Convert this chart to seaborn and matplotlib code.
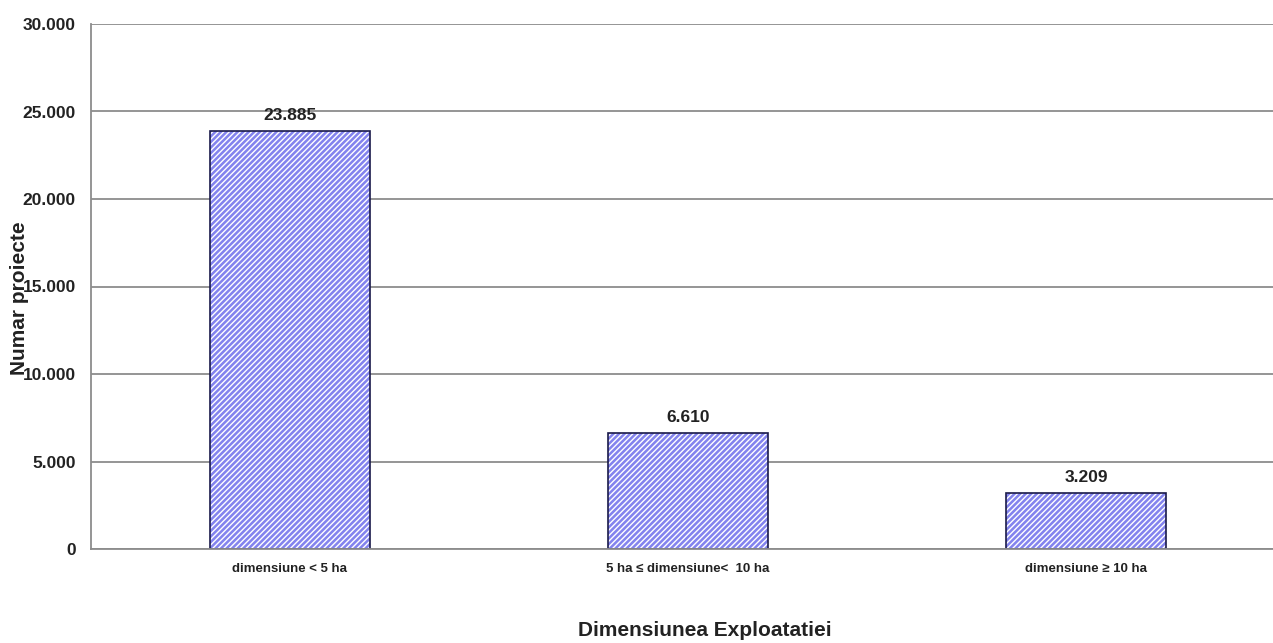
import seaborn as sns
import matplotlib.pyplot as plt
import matplotlib.ticker as mticker
import pandas as pd

categorii = ['dimensiune < 5 ha', '5 ha \u2264 dimensiune<  10 ha', 'dimensiune \u2265 10 ha']
proiecte = [23885, 6610, 3209]
etichete = ['23.885', '6.610', '3.209']

df = pd.DataFrame({'categorie': categorii, 'proiecte': proiecte})

sns.set_style('white')
plt.rcParams['font.family'] = ['Liberation Sans', 'DejaVu Sans']
plt.rcParams['hatch.linewidth'] = 1.0

fig = plt.figure(figsize=(12.73, 6.43), dpi=100)
ax = fig.add_axes([91 / 1273, 1 - 549 / 643, 1194 / 1273, 525 / 643])

# bars with white diagonal stripes, then the dark outline on top
sns.barplot(data=df, x='categorie', y='proiecte', ax=ax, color='#8383ee',
            width=0.40, edgecolor='white', linewidth=0, hatch='//////', saturation=1)
sns.barplot(data=df, x='categorie', y='proiecte', ax=ax, facecolor='none',
            width=0.40, edgecolor='#1a1a4a', linewidth=1.2, saturation=1)

for i, (v, t) in enumerate(zip(proiecte, etichete)):
    ax.text(i, v + 450, t, ha='center', va='bottom', fontsize=12.5,
            fontweight='bold', color='#222222')

ax.set_ylim(0, 30000)
ax.set_xlim(-0.5, 2.5)
ax.yaxis.set_major_locator(mticker.MultipleLocator(5000))
ax.yaxis.set_major_formatter(mticker.FuncFormatter(lambda v, p: f'{int(v):,}'.replace(',', '.')))
ax.grid(axis='y', color='#8c8c8c', linewidth=1.3)
ax.set_axisbelow(True)

for s in ['top', 'right']:
    ax.spines[s].set_visible(False)
for s in ['left', 'bottom']:
    ax.spines[s].set_color('#8c8c8c')
    ax.spines[s].set_linewidth(1.3)

ax.tick_params(axis='y', length=5, width=1.2, color='#8c8c8c', labelsize=12.5, pad=6)
for lbl in ax.get_yticklabels():
    lbl.set_fontweight('bold')
    lbl.set_color('#222222')

ax.set_xticks([0, 1, 2])
ax.set_xticklabels(categorii, fontsize=9.5, fontweight='bold', color='#222222')
ax.tick_params(axis='x', length=0, pad=10)
ax.set_xticks([0.5, 1.5], minor=True)
ax.tick_params(axis='x', which='minor', length=4, width=1.2, color='#8c8c8c')

ax.set_xlabel('')
ax.set_ylabel('Numar proiecte', fontsize=15, fontweight='bold', color='#222222')
ax.yaxis.set_label_coords((29 - 91) / 1194, (549 - 298) / 525)

fig.text(705 / 1273, 1 - 631 / 643, 'Dimensiunea Exploatatiei', ha='center', va='center',
         fontsize=15, fontweight='bold', color='#222222')

fig.savefig('out.png', dpi=100)
